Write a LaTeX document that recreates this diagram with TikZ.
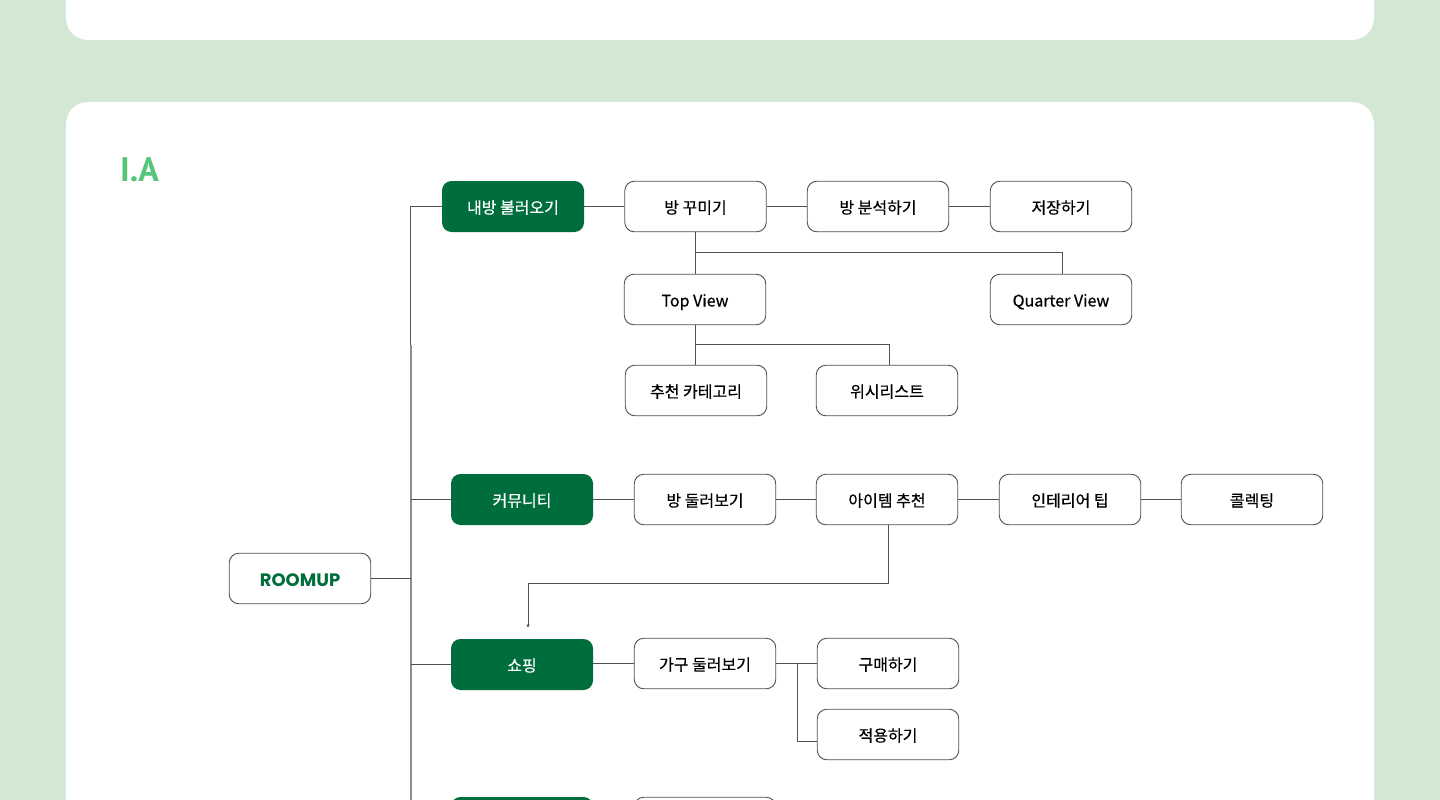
\documentclass[tikz,border=0pt]{standalone}
\usepackage{fontspec}
\setmainfont[RawFeature={embolden=0.5}]{Noto Sans CJK KR}
\newfontfamily\logofont{Poppins}
\newfontfamily\titlefont{PT Sans}
\usetikzlibrary{arrows.meta}
\definecolor{bgmint}{HTML}{D2E8D4}
\definecolor{roomgreen}{HTML}{006E3C}
\definecolor{titlegreen}{HTML}{55C57A}
\definecolor{wire}{HTML}{505050}
\tikzset{
  menubox/.style={draw=wire,fill=white,line width=.9pt,rounded corners=9.5pt,minimum width=141.5pt,minimum height=50.5pt,inner sep=0pt,text height=16pt,text depth=2pt,font=\fontsize{16}{16}\selectfont},
  mainbox/.style={fill=roomgreen,text=white,rounded corners=9.5pt,minimum width=142pt,minimum height=51pt,inner sep=0pt,text height=16pt,text depth=2pt,font=\fontsize{16}{16}\selectfont},
  wired/.style={draw=wire,line width=.9pt},
}
\begin{document}
\begin{tikzpicture}[x=1pt,y=-1pt]
    \useasboundingbox (0,0) rectangle (1440,800);
    \clip (0,0) rectangle (1440,800);
    \fill[bgmint] (0,0) rectangle (1440,800);
    \fill[white,rounded corners=22pt] (66,-60) rectangle (1374,40);
    \fill[white,rounded corners=22pt] (66,102) rectangle (1374,900);
    \node[text=titlegreen,anchor=west,inner sep=0pt,font=\titlefont\fontsize{34}{34}\selectfont\bfseries] (title) at (120,170) {I.A};

    \node[menubox,text height=15pt,text depth=0pt,font=\logofont\fontsize{18}{18}\selectfont\bfseries,text=roomgreen] (roomup) at (300,578.5) {ROOMUP};

    \node[mainbox] (myroom) at (513,206.5) {내방 불러오기};
    \node[menubox] (decorate) at (695.5,206.5) {방 꾸미기};
    \node[menubox] (analyze) at (878,206.5) {방 분석하기};
    \node[menubox] (save) at (1061,206.5) {저장하기};
    \node[menubox] (topview) at (695,299.5) {Top View};
    \node[menubox] (quarter) at (1061,299.5) {Quarter View};
    \node[menubox] (category) at (696,390.5) {추천 카테고리};
    \node[menubox] (wishlist) at (887,390.5) {위시리스트};

    \node[mainbox] (community) at (522,499.5) {커뮤니티};
    \node[menubox] (tour) at (705,499.5) {방 둘러보기};
    \node[menubox] (items) at (887,499.5) {아이템 추천};
    \node[menubox] (tip) at (1070,499.5) {인테리어 팁};
    \node[menubox] (collect) at (1252,499.5) {콜렉팅};

    \node[mainbox] (shop) at (522,664.5) {쇼핑};
    \node[menubox] (furniture) at (705,663.5) {가구 둘러보기};
    \node[menubox] (buy) at (888,663.5) {구매하기};
    \node[menubox] (apply) at (888,734.5) {적용하기};

    \node[mainbox] (lastmain) at (522,822.5) {};
    \node[menubox] (lastsub) at (705,822.5) {};

    \coordinate (trunktop) at (410.5,206.5);
    \coordinate (trunkmid) at (410.5,345);
    \coordinate (trunkend) at (411,810);
    \coordinate (viewfork) at (695.5,252.5);
    \coordinate (wishfork) at (695.5,344.5);
    \coordinate (shopdrop) at (528,628);
    \coordinate (buyfork) at (797,663.5);

    \draw[wired] (myroom.west) -- (trunktop) -- (trunkmid);
    \draw[wired,draw=wire!65,line width=1.4pt] (trunkmid -| trunkend) -- (trunkend);
    \draw[wired] (roomup.east) -- (411,578.5);
    \draw[wired] (411,499.5) -- (community.west);
    \draw[wired] (411,664.5) -- (shop.west);

    \draw[wired] (myroom) -- (decorate) -- (analyze) -- (save);
    \draw[wired] (decorate.south) -- (decorate.south |- topview.north);
    \draw[wired] (viewfork) -| ([xshift=1pt]quarter.north);
    \draw[wired] (viewfork |- topview.south) -- (viewfork |- category.north);
    \draw[wired] (wishfork) -| ([xshift=2pt]wishlist.north);

    \draw[wired] (community) -- (tour) -- (items) -- (tip) -- (collect);
    \draw[wired,-{Latex[length=3.5pt,width=3.5pt]}] ([xshift=1pt]items.south) |- (528,583.5) -- (shopdrop);

    \draw[wired] (shop.east |- furniture.west) -- (furniture.west);
    \draw[wired] (furniture) -- (buy);
    \draw[wired] (buyfork) |- ([yshift=-6.5pt]apply.west);
    \draw[wired] (lastmain) -- (lastsub);
\end{tikzpicture}
\end{document}
